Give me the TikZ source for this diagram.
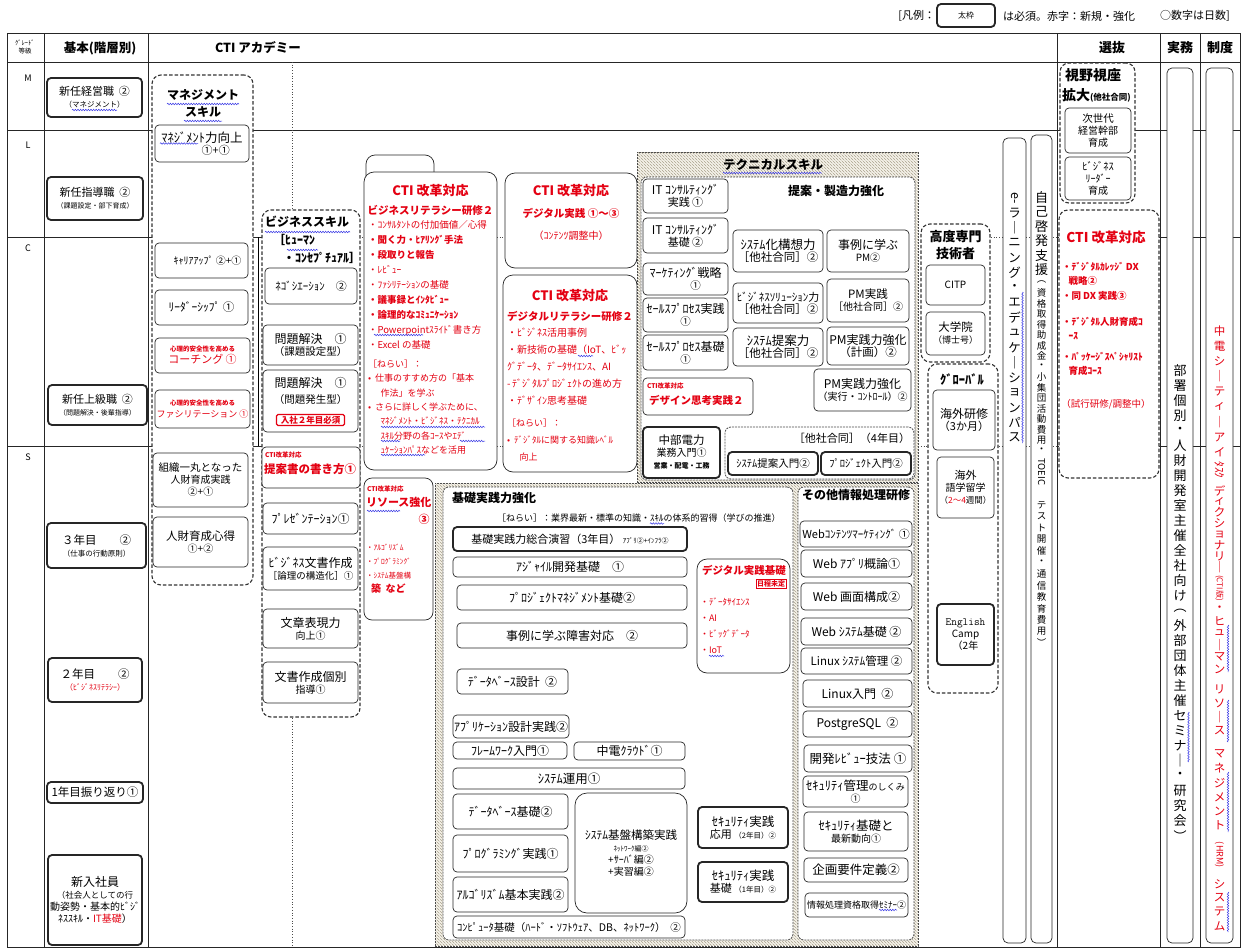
\documentclass[tikz,border=0pt]{standalone}
\usepackage{fontspec}
\setmainfont{Noto Sans CJK JP}
\usepackage{graphicx}
\usetikzlibrary{patterns,decorations.pathmorphing}
\definecolor{cred}{RGB}{228,0,18}
\definecolor{hatchc}{RGB}{170,162,140}
\definecolor{hatchbg}{RGB}{246,243,235}
\definecolor{wblue}{RGB}{60,60,230}
\newcommand\fs[2]{\fontsize{#1}{#2}\selectfont}
\newcommand\vch[2]{\hbox to 22pt{\hss\vbox to #1{\vss\hbox{#2}\vss}\hss}}
\ExplSyntaxOn
\NewDocumentCommand{\vtxt}{mm}{\vbox{\offinterlineskip \tl_map_inline:nn {#2} {\vch{#1}{##1}}}}
\ExplSyntaxOff
\newcommand\mkbox[7][]{\node[bx,anchor=north west,minimum width={#5-#3},minimum height={#6-#4},#1] (#2) at (#3,#4) {#7};}
\newcommand\mkhatch[5]{\node[hatch,anchor=north west,minimum width={#4-#2},minimum height={#5-#3}] (#1) at (#2,#3) {};}
\tikzset{
 bx/.style={draw=black!85,line width=0.7pt,rounded corners=4pt,fill=white,inner sep=1pt,outer sep=0pt,align=center,font={\fs{10}{12}}},
 thk/.style={line width=1.8pt},
 grp/.style={draw=black!80,dash pattern=on 3.5pt off 2pt,line width=1.1pt,rounded corners=9pt,fill=white},
 igrp/.style={draw=black!70,dash pattern=on 2pt off 1pt,line width=0.8pt,rounded corners=6pt,fill=white},
 hatch/.style={draw=black!70,dash pattern=on 2pt off 1pt,line width=0.8pt,inner sep=0pt,outer sep=0pt,preaction={fill=hatchbg},pattern=north west lines,pattern color=hatchc},
 txt/.style={inner sep=0pt,outer sep=0pt,align=left},
 tline/.style={line width=1pt,draw=black!85},
 dline/.style={line width=0.7pt,dotted,draw=black!70},
 wavy/.style={draw=wblue,line width=0.5pt,decorate,decoration={snake,amplitude=0.8pt,segment length=2.6pt}},
}
\begin{document}
\begin{tikzpicture}[x=1pt,y=-1pt,font={\fs{10}{12}}]
\path[fill=white] (0,0) rectangle (1243,948);
\useasboundingbox (0,0) rectangle (1243,948);

% ---------- table ----------
\draw[tline] (7,33) rectangle (1240,947);
\draw[tline] (7,62) -- (1240,62);
\foreach \xx in {44,148,1057,1160,1200} {\draw[tline] (\xx,33) -- (\xx,947);}
\draw[tline] (7,130) -- (1240,130);
\draw[tline] (7,237) -- (262,237);
\draw[dline] (262,237) -- (1057,237);
\draw[tline] (1057,237) -- (1240,237);
\draw[tline] (7,446) -- (262,446);
\draw[dline] (262,446) -- (1057,446);
\draw[tline] (1057,446) -- (1240,446);
\draw[line width=0.8pt] (258,237) -- (258,446);
\draw[dline] (292,62) -- (292,947);

% header
\node[align=center,font={\fs{6.5}{8}}] (hg) at (25,47) {ｸﾞﾚｰﾄﾞ\\等級};
\node[font={\bfseries\fs{12.5}{14}}] (h1) at (100,48) {基本(階層別)};
\node[font={\bfseries\fs{12.5}{14}}] (h2) at (258,48) {CTI アカデミー};
\node[font={\bfseries\fs{13}{14}}] (h3) at (1112,48) {選抜};
\node[font={\bfseries\fs{13}{14}}] (h4) at (1180,48) {実務};
\node[font={\bfseries\fs{13}{14}}] (h5) at (1220,48) {制度};
\node[font={\fs{9}{10}}] (rM) at (28,78) {M};
\node[font={\fs{9}{10}}] (rL) at (28,145) {L};
\node[font={\fs{9}{10}}] (rC) at (28,248) {C};
\node[font={\fs{9}{10}}] (rS) at (28,457) {S};

% legend
\node[txt,anchor=east,font={\fs{11}{13}}] (lg1) at (935,16) {{[}凡例：};
\mkbox[thk,font={\fs{8}{10}}]{lgb}{937}{4}{995}{27}{太枠}
\node[txt,anchor=west,font={\fs{11}{13}}] (lg2) at (1003,16) {は必須。赤字：新規・強化};
\node[txt,anchor=west,font={\fs{11}{13}}] (lg3) at (1160,16) {○数字は日数]};

% ---------- basic column ----------
\mkbox[thk]{b1}{47}{78}{142}{117}{\fs{11}{16}新任経営職\ \ ②\\\fs{7.5}{9}（マネジメント）}
\draw[wavy] (72,110) -- (117,110);
\mkbox[thk]{b2}{47}{177}{143}{220}{\fs{11}{16}新任指導職\ \ ②\\\fs{7}{9}（課題設定・部下育成）}
\mkbox[thk]{b3}{48}{385}{147}{425}{\fs{11}{16}新任上級職\ \ ②\\\fs{7}{9}（問題解決・後輩指導）}
\mkbox[thk]{b4}{47}{523}{146}{568}{\fs{11.5}{17}３年目\qquad ②\\\fs{7.5}{9}（仕事の行動原則）}
\mkbox[thk]{b5}{48}{658}{142}{702}{\fs{11.5}{17}２年目\qquad ②\\\color{cred}\fs{8}{9}（ﾋﾞｼﾞﾈｽﾘﾃﾗｼｰ）}
\mkbox[thk]{b6}{47}{782}{143}{803}{\fs{11.5}{13}1年目振り返り①}
\mkbox[thk]{b7}{48}{855}{142}{945}{\fs{12}{20}新入社員\\\fs{8.5}{12}（社会人としての行\\動姿勢・基本的ﾋﾞｼﾞ\\ﾈｽｽｷﾙ・\textcolor{cred}{IT基礎}）}

% ---------- management skill ----------
\mkbox[grp]{mg}{152}{75}{253}{585}{}
\node[align=center,font={\bfseries\fs{12}{17}}] (mgt) at (203,103) {マネジメント\\スキル};
\draw[wavy] (167,104) -- (239,104);
\draw[wavy] (184,121) -- (222,121);
\mkbox{m1}{155}{125}{249}{162}{\fs{12.5}{16}ﾏﾈｼﾞﾒﾝﾄ力向上\\\fs{11}{16}\hspace*{2.5em}①+①}
\draw[wavy] (160,143.5) -- (198,143.5);
\mkbox{m2}{155}{243}{248}{278}{\fs{10}{12}\hspace*{1.2em}ｷｬﾘｱｱｯﾌﾟ\ ②+①}
\mkbox{m3}{155}{290}{248}{325}{\fs{11.5}{12}ﾘｰﾀﾞｰｼｯﾌﾟ\ ①}
\mkbox[text=cred]{m4}{155}{338}{250}{373}{\bfseries\fs{6.5}{10}心理的安全性を高める\\\fs{11}{14}コーチング\ ①}
\mkbox[text=cred]{m5}{155}{390}{250}{428}{\bfseries\fs{6.5}{10}心理的安全性を高める\\\fs{9}{14}ファシリテーション\ ①}
\mkbox{m6}{153}{453}{248}{507}{\fs{10.5}{15}組織一丸となった\\人財育成実践\\②+①}
\mkbox{m7}{153}{517}{248}{567}{\fs{11.5}{17}人財育成心得\\①+②}

% ---------- business skill ----------
\mkbox[grp]{bg}{262}{210}{360}{717}{}
\node[txt,anchor=north west,font={\bfseries\fs{12}{18}}] (bgt) at (265,216) {ビジネススキル\\\hspace*{8pt}［ﾋｭｰﾏﾝ\\\hspace*{18pt}・ｺﾝｾﾌﾟﾁｭｱﾙ］};
\draw[wavy] (265,232) -- (350,232);
\draw[wavy] (287,250) -- (318,250);
\mkbox{k1}{265}{268}{357}{304}{\fs{11}{12}ﾈｺﾞｼｴｰｼｮﾝ\quad ②}
\mkbox{k2}{263}{325}{358}{365}{\fs{12}{16}問題解決\quad ①\\\fs{10.5}{13}（課題設定型）}
\mkbox{k3}{263}{370}{358}{432}{}
\node[align=center,font={\fs{12}{16}}] (k3t) at (310.5,391) {問題解決\quad ①\\\fs{10.5}{13}（問題発生型）};
\node[draw=cred,line width=1.3pt,rounded corners=1.5pt,inner sep=1.5pt,text=cred,font={\bfseries\fs{8.5}{10}},minimum width=68pt] (k3r) at (310.5,420) {入社２年目必須};
\mkbox{k4}{262}{447}{360}{488}{}
\node[txt,anchor=north west,text=cred,font={\bfseries\fs{6.5}{8}}] (k4a) at (265,452) {CTI改革対応};
\node[txt,anchor=north west,text=cred,font={\bfseries\fs{11.5}{13}}] (k4b) at (264,464) {提案書の書き方①};
\mkbox{k5}{263}{503}{358}{534}{\fs{12}{13}ﾌﾟﾚｾﾞﾝﾃｰｼｮﾝ①}
\mkbox{k6}{263}{547}{358}{590}{\fs{12}{15}ﾋﾞｼﾞﾈｽ文書作成\\\fs{9.5}{12}［論理の構造化］①}
\mkbox{k7}{263}{609}{358}{648}{\fs{12}{16}文章表現力\\向上①}
\mkbox{k8}{263}{662}{358}{703}{\fs{12}{16}文書作成個別\\指導①}

% ---------- CTI business literacy ----------
\mkbox[rounded corners=9pt]{clt}{366}{155}{434}{185}{}
\mkbox[rounded corners=10pt]{cl}{364}{172}{497}{470}{}
\node[align=center,text=cred,font={\bfseries\fs{13}{19}}] (clh) at (430.5,200) {CTI 改革対応\\\fs{10.5}{19}ビジネスリテラシー研修２};
\node[txt,anchor=north west,text=cred,font={\fs{9.5}{15}}] (cll) at (368,220) {・ｺﾝｻﾙﾀﾝﾄの付加価値／心得\\\textbf{・聞く力・ﾋｱﾘﾝｸﾞ手法}\\\textbf{・段取りと報告}\\・ﾚﾋﾞｭｰ\\・ﾌｧｼﾘﾃｰｼｮﾝの基礎\\\textbf{・議事録とｲﾝﾀﾋﾞｭｰ}\\\textbf{・論理的なｺﾐｭﾆｹｰｼｮﾝ}\\・Powerpointｽﾗｲﾄﾞ書き方\\・Excel の基礎};
\draw[wavy] (374,335) -- (423,335);
\node[txt,anchor=north west,text=cred,font={\fs{9}{14.3}}] (cln) at (368,360) {［ねらい］：\\•\ \ 仕事のすすめ方の「基本\\\hspace*{1.4em}作法」を学ぶ\\•\ \ さらに詳しく学ぶために、\\\hspace*{1.4em}ﾏﾈｼﾞﾒﾝﾄ・ﾋﾞｼﾞﾈｽ・ﾃｸﾆｶﾙ\\\hspace*{1.4em}ｽｷﾙ分野の各ｺｰｽやｴﾃﾞ\\\hspace*{1.4em}ｭｹｰｼｮﾝﾊﾟｽなどを活用};
\draw[wavy] (381,427) -- (485,427);
\draw[wavy] (381,441) -- (400,441);
\draw[wavy] (460,441) -- (485,441);
\draw[wavy] (381,455) -- (425,455);

% ---------- CTI digital practice / literacy ----------
\mkbox[rounded corners=10pt]{dp}{505}{173}{637}{268}{}
\node[align=center,text=cred,font={\bfseries\fs{13}{22}}] (dpt) at (571,212) {CTI 改革対応\\\fs{10.5}{22}デジタル実践\ ①～③\\\mdseries\fs{10}{22}（ｺﾝﾃﾝﾂ調整中）};
\mkbox[rounded corners=10pt]{dl}{503}{275}{637}{472}{}
\node[align=center,text=cred,font={\bfseries\fs{13}{20}}] (dlh) at (570,305) {CTI 改革対応\\\fs{10.5}{20}デジタルリテラシー研修２};
\node[txt,anchor=north west,text=cred,font={\fs{10}{17}}] (dll) at (507,328) {・ﾋﾞｼﾞﾈｽ活用事例\\・新技術の基礎（IoT、ﾋﾞｯ\\ｸﾞﾃﾞｰﾀ、ﾃﾞｰﾀｻｲｴﾝｽ、AI\\-\,ﾃﾞｼﾞﾀﾙﾌﾟﾛｼﾞｪｸﾄの進め方\\・ﾃﾞｻﾞｲﾝ思考基礎};
\draw[wavy] (578,356) -- (593,356);
\node[txt,anchor=north west,text=cred,font={\fs{9}{17}}] (dln) at (507,419) {［ねらい］：\\•\ \ ﾃﾞｼﾞﾀﾙに関する知識ﾚﾍﾞﾙ\\\hspace*{1.4em}向上};

% ---------- CTI resource ----------
\mkbox[rounded corners=8pt]{rs}{364}{478}{433}{620}{}
\node[txt,anchor=north west,text=cred,font={\bfseries\fs{6.5}{8}}] (rsa) at (367,486) {CTI改革対応};
\node[txt,anchor=north west,text=cred,font={\bfseries\fs{11}{13}}] (rsb) at (366,497) {リソース強化};
\draw[wavy] (367,511) -- (400,511);
\node[text=cred,font={\bfseries\fs{11}{12}}] (rsc) at (424,519) {③};
\node[txt,anchor=north west,text=cred,font={\fs{7.5}{14}}] (rsl) at (366,544) {・ｱﾙｺﾞﾘｽﾞﾑ\\・ﾌﾟﾛｸﾞﾗﾐﾝｸﾞ\\・ｼｽﾃﾑ基盤構\\\bfseries\fs{10}{16}\hspace*{0.5em}築\ \ など};

% ---------- technical skill ----------
\mkhatch{th}{637}{152}{918}{482}
\node[font={\bfseries\fs{12.5}{14}}] (tht) at (773,165) {テクニカルスキル};
\draw[wavy] (723,173) -- (822,173);
\mkbox[igrp]{ti}{641}{177}{915}{480}{}
\node[font={\bfseries\fs{12}{14}}] (tit) at (836,191) {提案・製造力強化};
\mkbox{t1}{643}{179}{728}{213}{\fs{12}{15}IT ｺﾝｻﾙﾃｨﾝｸﾞ\\\fs{11}{15}実践\ ①}
\mkbox{t2}{643}{218}{728}{253}{\fs{12}{15}IT ｺﾝｻﾙﾃｨﾝｸﾞ\\\fs{11}{15}基礎\ ②}
\mkbox{t3}{643}{263}{728}{295}{\fs{12}{14}ﾏｰｹﾃｨﾝｸﾞ戦略\\\hspace*{2em}\fs{10.5}{14}①}
\mkbox{t4}{643}{298}{728}{332}{\fs{12}{14}ｾｰﾙｽﾌﾟﾛｾｽ実践\\\fs{10.5}{14}①}
\mkbox{t5}{643}{335}{728}{370}{\fs{12}{14}ｾｰﾙｽﾌﾟﾛｾｽ基礎\\\fs{10.5}{14}①}
\mkbox{t6}{643}{378}{753}{415}{}
\node[txt,anchor=north west,text=cred,font={\bfseries\fs{6.5}{8}}] (t6a) at (647,383) {CTI改革対応};
\node[txt,anchor=north west,text=cred,font={\bfseries\fs{10.5}{12}}] (t6b) at (649,395) {デザイン思考実践２};
\mkbox{t7}{733}{230}{823}{272}{\fs{12.5}{17}ｼｽﾃﾑ化構想力\\\fs{11.5}{17}［他社合同］②}
\mkbox{t8}{827}{230}{909}{272}{\fs{12}{17}事例に学ぶ\\PM②}
\mkbox{t9}{733}{283}{823}{323}{\fs{11}{17}ﾋﾞｼﾞﾈｽｿﾘｭｰｼｮﾝ力\\\fs{11.5}{17}［他社合同］②}
\mkbox{t10}{827}{279}{909}{322}{\fs{11.5}{17}PM実践\\［他社合同］②}
\mkbox{t11}{733}{328}{823}{366}{\fs{12.5}{17}ｼｽﾃﾑ提案力\\\fs{11.5}{17}［他社合同］②}
\mkbox{t12}{827}{327}{909}{365}{\fs{12}{17}PM実践力強化\\\fs{11.5}{17}（計画）②}
\mkbox{t13}{814}{369}{911}{411}{\fs{12}{17}PM実践力強化\\\fs{10}{17}（実行・ｺﾝﾄﾛｰﾙ）②}
\mkbox[thk]{t14}{643}{427}{720}{478}{\fs{11.5}{14}中部電力\\業務入門①\\\bfseries\fs{7}{10}営業・配電・工務}
\mkbox[igrp]{t15}{725}{427}{914}{479}{}
\node[txt,anchor=east,font={\fs{11}{13}}] (t15t) at (910,438) {［他社合同］（4年目）};
\mkbox[thk]{t16}{728}{452}{818}{475}{\fs{10.5}{12}ｼｽﾃﾑ提案入門②}
\mkbox[thk]{t17}{821}{452}{911}{475}{\fs{10.5}{12}ﾌﾟﾛｼﾞｪｸﾄ入門②}

% ---------- high-level specialist / global ----------
\mkbox[grp]{hs}{921}{224}{990}{362}{}
\node[align=center,font={\bfseries\fs{13}{17}}] (hst) at (955.5,245) {高度専門\\技術者};
\mkbox{hs1}{926}{265}{985}{305}{\fs{10}{12}CITP}
\mkbox{hs2}{926}{312}{985}{355}{\fs{11.5}{15}大学院\\\fs{9}{12}（博士号）}
\mkbox[grp]{gl}{928}{364}{998}{693}{}
\node[font={\bfseries\fs{12.5}{14}}] (glt) at (962,380) {ｸﾞﾛｰﾊﾞﾙ};
\mkbox{g1}{933}{390}{995}{450}{\fs{12}{18}海外研修\\\fs{11}{16}（3か月）}
\mkbox{g2}{937}{457}{994}{518}{\fs{11}{16}海外\\語学留学\\\fs{8.5}{12}（\textcolor{cred}{2～4}週間）}
\mkbox[thk]{g3}{937}{604}{994}{665}{\fs{11}{17}\ttfamily English\\Camp\\\rmfamily（2年}

% ---------- vertical columns ----------
\mkbox[rounded corners=5pt]{el}{1003}{138}{1026}{943}{}
\node[inner sep=0pt,anchor=north] (elt) at (1014.5,190) {\fs{12.5}{14}\vtxt{15pt}{{\rotatebox{-90}{e-}}ラ｜ニング・エデュケ｜ションパス}};
\draw[wavy] (1022.5,292) -- (1022.5,443);
\mkbox[rounded corners=5pt]{sd}{1031}{135}{1052}{943}{}
\node[inner sep=0pt,anchor=north] (sdt) at (1041.5,190) {\vbox{\offinterlineskip\fs{13}{14}\vtxt{14.5pt}{自己啓発支援}\fs{9.5}{10}\vtxt{10.5pt}{︵資格取得助成金・小集団活動費用・}\vch{32pt}{\rotatebox{-90}{TOEIC}}\vtxt{11.5pt}{{}テスト開催・通信教育費用︶}}};

% ---------- selection ----------
\mkbox[grp]{s0}{1060}{63}{1135}{203}{}
\node[txt,anchor=north west,font={\bfseries\fs{14}{16}}] (s0t) at (1065,69) {視野視座};
\node[txt,anchor=north west,font={\bfseries\fs{14}{16}}] (s0u) at (1062,89) {拡大\fs{8.5}{10}(他社合同)};
\mkbox{s1}{1065}{108}{1131}{153}{\fs{10.5}{14}次世代\\経営幹部\\育成}
\mkbox{s2}{1065}{157}{1131}{200}{\fs{10.5}{14}ﾋﾞｼﾞﾈｽ\\ﾘｰﾀﾞｰ\\育成}
\mkbox[grp]{s3}{1059}{210}{1159}{478}{}
\node[text=cred,font={\bfseries\fs{13.5}{15}}] (s3t) at (1106,237) {CTI 改革対応};
\node[txt,anchor=north west,text=cred,font={\bfseries\fs{9.5}{14.5}}] (s3l) at (1062,262) {・ﾃﾞｼﾞﾀﾙｶﾚｯｼﾞ DX\\\hspace*{0.7em}戦略②\\・同 DX 実践③};
\node[txt,anchor=north west,text=cred,font={\bfseries\fs{9.5}{14.5}}] (s3m) at (1062,317) {・ﾃﾞｼﾞﾀﾙ人財育成ｺ\\\hspace*{0.7em}ｰｽ};
\node[txt,anchor=north west,text=cred,font={\bfseries\fs{9.5}{14.5}}] (s3n) at (1062,352) {・ﾊﾟｯｹｰｼﾞｽﾍﾟｼｬﾘｽﾄ\\\hspace*{0.7em}育成ｺｰｽ};
\node[text=cred,font={\fs{9.5}{11}}] (s3o) at (1106,404) {（試行研修/調整中）};

% ---------- 実務 / 制度 ----------
\mkbox[rounded corners=5pt]{jm}{1167}{68}{1193}{943}{}
\node[inner sep=0pt,anchor=north] (jmt) at (1180,363) {\fs{13}{14}\vtxt{15pt}{部署個別・人財開発室主催全社向け︵外部団体主催セミナ｜・研究会︶}};
\draw[wavy] (1188.5,712) -- (1188.5,762);
\mkbox[rounded corners=5pt]{sy}{1206}{68}{1233}{943}{}
\node[inner sep=0pt,anchor=north,text=cred] (syt) at (1219.5,323) {\vbox{\offinterlineskip\color{cred}\fs{11.5}{13}\vtxt{15.2pt}{中電シ｜ティ｜アイ}\vch{20pt}{\rotatebox{-90}{ﾀｽｸ}}\vch{5pt}{}\vtxt{11pt}{ディクショナリ｜}\vch{30pt}{\rotatebox{-90}{\fs{8}{9}(CTI版)}}\vtxt{12pt}{・ヒュ｜マン}\vch{8pt}{}\vtxt{13.5pt}{リソ｜ス}\vch{10pt}{}\vtxt{14.3pt}{マネジメント}\vch{44pt}{\rotatebox{-90}{\fs{9}{10}(HRM)}}\vtxt{14pt}{システム}}};
\draw[wavy] (1228,625) -- (1228,672);
\draw[wavy] (1228,700) -- (1228,742);
\draw[wavy] (1228,772) -- (1228,832);
\draw[wavy] (1228,892) -- (1228,932);

% ---------- basic practice / other ----------
\mkhatch{lh}{435}{483}{918}{946}
\mkbox[igrp]{bp}{443}{487}{793}{940}{}
\mkbox[igrp]{op}{798}{487}{914}{940}{}
\node[txt,anchor=west,font={\bfseries\fs{12}{14}}] (bpt) at (452,498) {基礎実践力強化};
\node[txt,anchor=west,font={\fs{9}{11}}] (bpn) at (497,518) {［ねらい］：業界最新・標準の知識・ｽｷﾙの体系的習得（学びの推進）};
\draw[wavy] (650,523.5) -- (664,523.5);
\mkbox[thk]{p1}{453}{527}{687}{551}{\fs{11}{13}基礎実践力総合演習（3年目）\ \fs{7}{9}ｱﾌﾟﾘ②+ｲﾝﾌﾗ②}
\mkbox{p2}{453}{557}{687}{577}{\fs{12}{13}ｱｼﾞｬｲﾙ開発基礎\quad ①}
\mkbox{p3}{457}{585}{687}{610}{\fs{12}{13}ﾌﾟﾛｼﾞｪｸﾄﾏﾈｼﾞﾒﾝﾄ基礎②}
\mkbox{p4}{457}{623}{687}{648}{\fs{12}{14}事例に学ぶ障害対応\quad ②}
\mkbox{p5}{457}{669}{568}{694}{\fs{12}{13}ﾃﾞｰﾀﾍﾞｰｽ設計\ \ ②}
\mkbox{p6}{453}{715}{568}{738}{\fs{12}{13}ｱﾌﾟﾘｹｰｼｮﾝ設計実践②}
\mkbox{p7}{453}{742}{567}{759}{\fs{12}{12}ﾌﾚｰﾑﾜｰｸ入門①}
\mkbox{p8}{574}{742}{685}{760}{\fs{12}{12}中電ｸﾗｳﾄﾞ①}
\mkbox{p9}{453}{768}{685}{789}{\fs{12.5}{13}ｼｽﾃﾑ運用①}
\mkbox{p10}{453}{794}{568}{829}{\fs{12}{13}ﾃﾞｰﾀﾍﾞｰｽ基礎②}
\mkbox{p11}{453}{835}{568}{872}{\fs{12}{13}ﾌﾟﾛｸﾞﾗﾐﾝｸﾞ実践①}
\mkbox{p12}{453}{877}{568}{912}{\fs{12}{13}ｱﾙｺﾞﾘｽﾞﾑ基本実践②}
\mkbox[rounded corners=12pt]{p13}{575}{793}{687}{913}{\fs{11.5}{16}ｼｽﾃﾑ基盤構築実践\\\fs{7}{10}ﾈｯﾄﾜｰｸ編②\\+ｻｰﾊﾞ編②\\+実習編②}
\mkbox{p14}{453}{916}{685}{938}{\fs{10.5}{12}ｺﾝﾋﾟｭｰﾀ基礎（ﾊｰﾄﾞ・ｿﾌﾄｳｪｱ、DB、ﾈｯﾄﾜｰｸ）\ \ ②}
\mkbox[thk]{p15}{698}{807}{788}{848}{\fs{12.5}{17}ｾｷｭﾘﾃｨ実践\\\fs{11}{17}応用\ \fs{7.5}{17}（2年目）②}
\mkbox[thk]{p16}{698}{862}{788}{902}{\fs{12.5}{17}ｾｷｭﾘﾃｨ実践\\\fs{11}{17}基礎\ \fs{7.5}{17}（1年目）②}
\mkbox[rounded corners=10pt]{p17}{697}{559}{790}{673}{}
\node[txt,anchor=north,text=cred,font={\bfseries\fs{10.5}{12}}] (p17a) at (744,565) {デジタル実践基礎};
\node[draw=cred,fill=white,text=cred,font={\bfseries\fs{7}{8}},inner sep=1pt] (p17b) at (771,584) {日程未定};
\node[txt,anchor=north west,text=cred,font={\fs{9}{16}}] (p17c) at (700,598) {・ﾃﾞｰﾀｻｲｴﾝｽ\\・AI\\・ﾋﾞｯｸﾞﾃﾞｰﾀ\\・IoT};
\draw[wavy] (709,656) -- (724,656);

\node[font={\bfseries\fs{12}{14}}] (opt) at (856,495) {その他情報処理研修};
\mkbox{o1}{800}{521}{912}{547}{\fs{11}{11}Webｺﾝﾃﾝﾂﾏｰｹﾃｨﾝｸﾞ\ ①}
\mkbox{o2}{801}{550}{912}{577}{\fs{12}{13}Web ｱﾌﾟﾘ概論①}
\mkbox{o3}{801}{583}{912}{610}{\fs{12}{13}Web 画面構成②}
\mkbox{o4}{801}{618}{912}{645}{\fs{12}{13}Web ｼｽﾃﾑ基礎\ ②}
\mkbox{o5}{801}{648}{912}{674}{\fs{11.5}{13}Linux ｼｽﾃﾑ管理\ ②}
\mkbox{o6}{803}{680}{912}{707}{\fs{12}{13}Linux入門\ \ ②}
\mkbox{o7}{803}{711}{912}{737}{\fs{12}{13}PostgreSQL\ \ ②}
\mkbox{o8}{804}{745}{912}{772}{\fs{12.5}{13}開発ﾚﾋﾞｭｰ技法\ ①}
\mkbox{o9}{803}{776}{908}{807}{\fs{12.5}{13}ｾｷｭﾘﾃｨ管理\fs{9}{13}のしくみ\\①}
\mkbox{o10}{804}{812}{908}{851}{\fs{12.5}{16}ｾｷｭﾘﾃｨ基礎と\\最新動向①}
\mkbox{o11}{804}{858}{908}{882}{\fs{12.5}{13}企画要件定義②}
\mkbox{o12}{805}{893}{908}{917}{\fs{9}{11}情報処理資格取得ｾﾐﾅｰ②}
\draw[wavy] (879,910) -- (897,910);
\end{tikzpicture}
\end{document}
